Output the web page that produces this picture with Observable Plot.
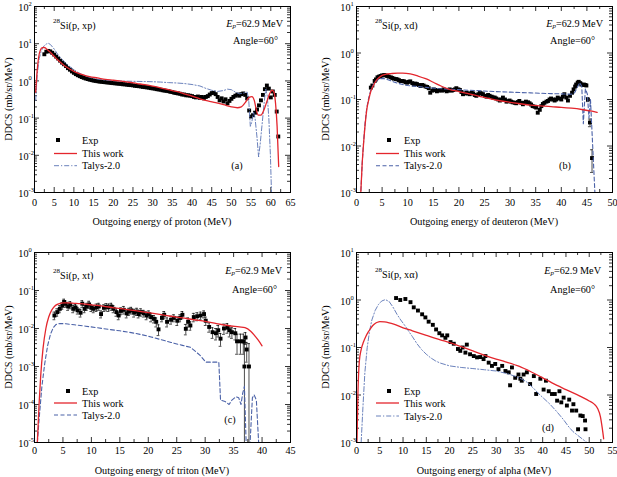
<!DOCTYPE html>
<html><head><meta charset="utf-8">
<script src="https://cdn.jsdelivr.net/npm/d3@7"></script>
<script src="https://cdn.jsdelivr.net/npm/@observablehq/plot@0.6"></script>
<style>
body{margin:0;background:#fff;}
#wrap{position:relative;width:617px;height:477px;overflow:hidden;background:#fff;}
#wrap svg{position:absolute;}
</style></head><body><div id="wrap"></div>
<script>
const FONT = '"Liberation Serif","Times New Roman",serif';
const FS = 10.2;
const RED = "#e4262d", BLUE = "#4b62a8", BLUE2 = "#5a74b4";

// ---------- (a) 28Si(p,xp) ----------
const expA = [[2.5,5.2],[3.0,6.1],[3.5,6.4],[4.0,6.2],[4.5,5.7],[5.0,5.1],[5.5,4.5],[6.0,4.0],[6.5,3.5],[7.0,3.1],[7.5,2.8],[8.0,2.5],[8.5,2.2],[9.0,2.0],[9.5,1.8],[10.0,1.65],[10.5,1.52],[11.0,1.42],[11.5,1.34],[12.0,1.27],[12.5,1.21],[13.0,1.16],[13.5,1.12],[14.0,1.08],[14.5,1.05],[15.0,1.02],[15.5,1.0],[16.0,0.98],[16.5,0.96],[17.0,0.95],[17.5,0.93],[18.0,0.92],[18.5,0.91],[19.0,0.9],[19.5,0.88],[20.0,0.87],[20.5,0.86],[21.0,0.85],[21.5,0.84],[22.0,0.83],[22.5,0.81],[23.0,0.81],[23.5,0.79],[24.0,0.78],[24.5,0.77],[25.0,0.76],[25.5,0.74],[26.0,0.73],[26.5,0.72],[27.0,0.71],[27.5,0.69],[28.0,0.68],[28.5,0.67],[29.0,0.66],[29.5,0.64],[30.0,0.63],[30.5,0.62],[31.0,0.6],[31.5,0.59],[32.0,0.58],[32.5,0.56],[33.0,0.55],[33.5,0.54],[34.0,0.53],[34.5,0.51],[35.0,0.5],[35.5,0.48],[36.0,0.47],[36.5,0.46],[37.0,0.45],[37.5,0.43],[38.0,0.43],[38.5,0.41],[39.0,0.41],[39.5,0.4],[40.0,0.39],[40.5,0.37],[41.0,0.36],[41.5,0.38],[42.0,0.35],[42.5,0.37],[43.0,0.34],[43.5,0.37],[44.0,0.39],[44.5,0.43],[45.0,0.47],[45.5,0.48],[46.0,0.44],[46.5,0.37],[47.0,0.3],[47.5,0.34],[48.0,0.28],[48.5,0.32],[49.0,0.25],[49.5,0.29],[50.0,0.33],[50.5,0.37],[51.0,0.4],[51.5,0.43],[52.0,0.4],[52.5,0.44],[53.0,0.46],[53.5,0.42],[54.0,0.34],[54.5,0.16],[55.0,0.11],[55.5,0.12],[56.0,0.14],[56.5,0.17],[57.0,0.22],[57.5,0.3],[58.0,0.42],[58.5,0.6],[59.0,0.75],[59.5,0.62],[60.0,0.36],[60.5,0.52],[61.0,0.42],[61.5,0.15],[61.9,0.032]];
const thisA = [[0.3,0.5],[0.6,1.5],[1.0,4.0],[1.5,6.8],[2.0,7.8],[2.5,7.9],[3.0,7.3],[3.5,6.6],[4.0,5.9],[5.0,4.6],[6.0,3.6],[7.0,2.9],[8.0,2.4],[9.0,2.05],[10.0,1.8],[12.0,1.5],[14.0,1.3],[16.0,1.2],[18.0,1.1],[20.0,1.04],[22.0,0.98],[24.0,0.92],[26.0,0.85],[28.0,0.79],[30.0,0.72],[32.0,0.65],[34.0,0.58],[36.0,0.52],[38.0,0.45],[40.0,0.39],[42.0,0.33],[44.0,0.29],[46.0,0.26],[48.0,0.23],[50.0,0.2],[51.5,0.19],[52.5,0.2],[53.5,0.26],[54.5,0.36],[55.2,0.38],[55.8,0.3],[56.3,0.17],[56.8,0.12],[57.5,0.12],[58.2,0.16],[59.0,0.28],[59.7,0.45],[60.3,0.56],[60.8,0.5],[61.2,0.25],[61.6,0.06],[62.0,0.005]];
const talysA = [[0.3,0.3],[0.7,1.5],[1.2,4.0],[1.7,6.3],[2.3,8.5],[3.0,9.8],[3.5,10.3],[4.0,9.6],[5.0,7.2],[6.0,5.0],[7.0,3.8],[8.0,3.0],[9.0,2.4],[10.0,2.0],[11.0,1.7],[12.0,1.5],[14.0,1.25],[16.0,1.12],[18.0,1.05],[20.0,1.01],[22.0,0.99],[24.0,0.98],[26.0,0.97],[28.0,0.96],[30.0,0.95],[32.0,0.93],[34.0,0.9],[36.0,0.88],[38.0,0.85],[40.0,0.8],[42.0,0.73],[43.5,0.63],[45.0,0.56],[46.5,0.52],[48.0,0.55],[49.0,0.6],[50.0,0.58],[51.0,0.5],[52.0,0.45],[53.0,0.47],[54.0,0.5],[54.4,0.3],[54.8,0.06],[55.2,0.08],[55.6,0.15],[56.0,0.1],[56.5,0.03],[56.9,0.009],[57.3,0.02],[57.8,0.07],[58.3,0.25],[58.7,0.6],[59.1,0.4],[59.5,0.1],[59.9,0.01],[60.2,0.0008]];

// ---------- (b) 28Si(p,xd) ---------- [E, value, error]
const expB = [[2.8,0.18],[3.1,0.2],[3.55,0.25],[3.8,0.27],[4.1,0.3],[4.4,0.31],[4.7,0.32],[5.0,0.33],[5.4,0.335],[5.7,0.33],[6.0,0.32],[6.3,0.31],[6.7,0.3],[7.0,0.29],[7.3,0.28],[7.7,0.275],[8.0,0.27],[8.3,0.26],[8.6,0.25],[9.0,0.25],[9.3,0.245],[9.6,0.235],[9.9,0.23],[10.2,0.24],[10.5,0.245],[10.9,0.225],[11.2,0.21],[11.5,0.22],[11.8,0.215],[12.2,0.205],[12.5,0.195],[12.8,0.205],[13.1,0.2],[13.5,0.19],[13.8,0.186],[14.1,0.175],[14.4,0.14],[14.8,0.155],[15.1,0.165],[15.4,0.16],[15.7,0.15],[16.0,0.155],[16.3,0.16],[16.7,0.155],[17.0,0.165],[17.3,0.16],[17.6,0.15],[17.9,0.155],[18.2,0.165],[18.6,0.155],[18.9,0.16],[19.2,0.165],[19.5,0.175],[19.9,0.165],[20.2,0.16],[20.5,0.145],[20.8,0.13],[21.2,0.135],[21.5,0.14],[21.8,0.135],[22.1,0.13],[22.5,0.14],[22.8,0.135],[23.1,0.125],[23.4,0.12],[23.8,0.13],[24.1,0.14],[24.4,0.135],[24.7,0.13],[25.1,0.12],[25.4,0.115],[25.7,0.125],[26.0,0.12],[26.4,0.115],[26.7,0.11],[27.0,0.11],[27.3,0.105],[27.7,0.1],[28.0,0.095],[28.3,0.1],[28.6,0.11],[29.0,0.1],[29.3,0.09],[29.6,0.092],[29.9,0.095],[30.2,0.09],[30.5,0.087],[30.9,0.085],[31.2,0.083],[31.5,0.088],[31.8,0.093],[32.2,0.085],[32.5,0.079],[32.8,0.085],[33.1,0.09],[33.5,0.087],[33.8,0.083],[34.1,0.078],[34.4,0.072],[34.8,0.07],[35.1,0.067],[35.4,0.052],[35.8,0.06],[36.1,0.072],[36.4,0.08],[36.7,0.085],[37.1,0.09],[37.4,0.093],[37.7,0.1],[38.0,0.105],[38.4,0.1],[38.7,0.095],[39.0,0.1],[39.3,0.11],[39.7,0.105],[40.0,0.1],[40.3,0.115],[40.6,0.13],[41.0,0.11],[41.3,0.095],[41.7,0.12],[42.1,0.14],[42.4,0.165],[42.7,0.19],[42.9,0.21],[43.2,0.23],[43.4,0.24],[43.7,0.225],[43.9,0.21],[44.2,0.205],[44.4,0.21],[44.7,0.205],[44.9,0.2],[45.2,0.1,0.01],[45.6,0.032,0.006],[46.0,0.0055,0.0028]];
const thisB = [[0.8,0.0008],[1.1,0.004],[1.4,0.012],[1.7,0.03],[2.0,0.06],[2.4,0.1],[2.8,0.15],[3.3,0.2],[3.8,0.25],[4.3,0.29],[5.0,0.33],[5.8,0.35],[6.7,0.36],[8.0,0.37],[9.0,0.37],[10.5,0.355],[12.0,0.32],[13.5,0.28],[15.0,0.235],[16.5,0.195],[18.0,0.168],[20.0,0.148],[22.0,0.132],[24.0,0.117],[26.0,0.104],[28.0,0.094],[30.0,0.087],[32.0,0.081],[34.0,0.076],[36.0,0.073],[38.0,0.07],[40.0,0.068],[42.0,0.065],[44.0,0.061],[46.0,0.056],[47.0,0.053]];
const talysB = [[0.8,0.0008],[1.1,0.004],[1.4,0.013],[1.7,0.033],[2.0,0.065],[2.4,0.11],[2.8,0.16],[3.3,0.21],[3.8,0.25],[4.5,0.28],[5.2,0.285],[6.0,0.27],[7.0,0.245],[8.0,0.225],[9.0,0.21],[10.0,0.2],[12.0,0.19],[14.0,0.18],[16.0,0.172],[18.0,0.167],[20.0,0.163],[22.0,0.158],[24.0,0.154],[26.0,0.15],[28.0,0.147],[30.0,0.144],[32.0,0.141],[34.0,0.139],[36.0,0.136],[38.0,0.134],[40.0,0.132],[42.0,0.13],[42.6,0.14],[43.1,0.18],[43.6,0.23],[44.0,0.19],[44.3,0.03],[44.7,0.17],[45.1,0.13],[45.4,0.04],[45.7,0.1],[46.0,0.02],[46.3,0.004],[46.6,0.0008]];

// ---------- (c) 28Si(p,xt) ---------- [E, value, error]
const expC = [[3.5,0.022,0.005],[4.0,0.027,0.006],[4.45,0.033,0.007],[4.9,0.04,0.008],[5.2,0.05,0.009],[5.45,0.045,0.009],[5.9,0.038,0.008],[6.3,0.042,0.009],[6.8,0.033,0.007],[7.2,0.036,0.007],[7.6,0.03,0.006],[8.1,0.026,0.006],[8.4,0.045,0.009],[8.8,0.033,0.007],[9.2,0.038,0.008],[9.6,0.043,0.009],[10.0,0.035,0.007],[10.4,0.033,0.007],[10.9,0.036,0.008],[11.3,0.038,0.008],[11.7,0.024,0.005],[12.2,0.035,0.007],[12.6,0.037,0.008],[13.0,0.036,0.008],[13.5,0.038,0.008],[13.9,0.033,0.007],[14.4,0.027,0.006],[14.8,0.022,0.005],[15.2,0.029,0.006],[15.7,0.031,0.007],[16.2,0.025,0.006],[16.6,0.028,0.006],[17.0,0.03,0.006],[17.5,0.026,0.006],[18.0,0.028,0.006],[18.3,0.024,0.005],[18.7,0.027,0.006],[19.2,0.025,0.005],[19.7,0.022,0.005],[20.1,0.024,0.005],[20.5,0.02,0.005],[21.0,0.018,0.004],[21.4,0.015,0.004],[21.8,0.0095,0.003],[22.4,0.019,0.004],[22.8,0.023,0.005],[23.3,0.015,0.004],[24.0,0.017,0.004],[24.5,0.019,0.004],[25.1,0.016,0.004],[25.6,0.019,0.004],[26.0,0.023,0.005],[26.6,0.0098,0.003],[27.0,0.015,0.004],[27.4,0.012,0.003],[28.0,0.02,0.005],[28.6,0.021,0.005],[29.2,0.022,0.005],[29.8,0.024,0.005],[30.1,0.016,0.004],[30.7,0.011,0.003],[31.3,0.008,0.0025],[31.9,0.0075,0.0025],[32.3,0.009,0.003],[32.7,0.0054,0.002],[33.3,0.01,0.003],[33.9,0.0105,0.003],[34.3,0.009,0.003],[34.7,0.008,0.0025],[35.3,0.0075,0.0025],[35.6,0.0046,0.0025],[36.2,0.0046,0.0025],[36.7,0.0046,0.0025],[36.9,0.001,0.003],[37.1,0.0058,0.002],[37.3,0.0028,0.0015],[37.7,0.001,0.003]];
const thisC = [[0.5,0.00001],[0.8,0.0001],[1.1,0.0006],[1.5,0.003],[2.0,0.01],[2.5,0.02],[3.0,0.03],[3.5,0.038],[4.0,0.043],[4.5,0.046],[5.0,0.047],[6.0,0.047],[7.0,0.046],[8.0,0.045],[10.0,0.042],[12.0,0.039],[14.0,0.035],[16.0,0.032],[18.0,0.029],[20.0,0.026],[22.0,0.0235],[24.0,0.021],[26.0,0.019],[28.0,0.017],[30.0,0.0155],[32.0,0.0135],[34.0,0.012],[36.0,0.011],[37.0,0.0105],[38.0,0.0085],[38.7,0.0065],[39.3,0.005],[40.0,0.0035]];
const talysC = [[0.5,0.00001],[0.9,0.00006],[1.3,0.0003],[1.8,0.0012],[2.3,0.0035],[2.8,0.007],[3.3,0.0105],[3.8,0.0128],[4.5,0.0136],[5.5,0.0133],[7.0,0.0125],[9.0,0.0115],[11.0,0.0105],[13.0,0.0095],[15.0,0.0087],[17.0,0.0078],[19.0,0.0068],[20.5,0.006],[22.0,0.0052],[24.0,0.0043],[26.0,0.0036],[27.4,0.0032],[28.3,0.0025],[29.2,0.0019],[30.1,0.0013],[31.0,0.0013],[32.4,0.0013],[32.7,0.00013],[33.5,0.00012],[34.2,0.0001],[34.7,0.00013],[35.4,0.00016],[35.9,0.00015],[36.3,0.0001],[36.6,0.0002],[36.9,0.0003],[37.2,0.00001],[37.9,0.00001],[38.3,0.00015],[38.6,0.00018],[39.0,0.00013],[39.4,0.00001]];

// ---------- (d) 28Si(p,xα) ----------
const expD = [[8.5,1.1],[9.4,1.0],[10.5,1.05],[11.6,0.9],[12.3,0.7],[13.2,0.6],[14.1,0.5],[14.8,0.43],[15.5,0.35],[16.4,0.3],[17.1,0.24],[17.8,0.2],[18.4,0.18],[19.1,0.16],[19.5,0.18],[20.2,0.13],[20.9,0.12],[21.8,0.093],[22.3,0.085],[22.8,0.1],[23.4,0.078],[23.7,0.115],[24.4,0.072],[25.2,0.066],[25.9,0.062],[26.6,0.063],[27.3,0.057],[27.7,0.066],[28.4,0.048],[29.1,0.041],[29.8,0.045],[30.5,0.035],[31.3,0.041],[32.0,0.032],[32.7,0.03],[33.0,0.016],[33.4,0.038],[34.1,0.023],[34.8,0.027],[35.2,0.022],[35.5,0.02],[35.9,0.027],[36.6,0.03],[37.3,0.017],[38.1,0.025],[38.6,0.0105],[39.5,0.022],[40.2,0.013],[40.7,0.02],[41.3,0.012],[42.0,0.0105],[42.6,0.0105],[43.1,0.0076],[43.6,0.012],[44.0,0.007],[44.5,0.0088],[45.2,0.006],[45.7,0.008],[46.3,0.0047],[46.6,0.0064],[47.2,0.0047],[47.6,0.0019],[48.1,0.0037],[48.6,0.0036],[49.1,0.0029],[49.2,0.0019]];
const thisD = [[0.1,0.001],[0.3,0.01],[0.6,0.05],[1.0,0.09],[1.5,0.13],[2.0,0.17],[2.5,0.21],[3.0,0.25],[3.5,0.29],[4.0,0.32],[4.5,0.34],[5.0,0.35],[6.0,0.345],[7.0,0.33],[8.0,0.31],[10.0,0.26],[12.0,0.225],[15.0,0.18],[18.0,0.145],[20.0,0.127],[22.0,0.108],[25.0,0.085],[28.0,0.066],[30.0,0.057],[32.0,0.05],[35.0,0.04],[38.0,0.029],[40.0,0.023],[42.0,0.018],[45.0,0.013],[48.0,0.0095],[50.0,0.0075],[51.0,0.0065],[51.8,0.0052],[52.4,0.0035],[52.8,0.002],[53.1,0.0012]];
const talysD = [[1.0,0.001],[1.4,0.006],[1.8,0.03],[2.3,0.1],[2.8,0.22],[3.3,0.38],[4.0,0.6],[4.7,0.8],[5.4,0.95],[6.2,1.02],[7.0,0.93],[7.8,0.72],[8.7,0.5],[9.5,0.38],[10.5,0.28],[11.2,0.22],[12.0,0.17],[13.0,0.12],[14.0,0.09],[15.0,0.072],[16.0,0.06],[17.0,0.052],[18.0,0.047],[20.0,0.041],[22.5,0.038],[25.0,0.036],[27.5,0.034],[30.0,0.032],[32.5,0.028],[35.0,0.023],[36.5,0.019],[38.0,0.014],[39.0,0.011],[40.0,0.0089],[41.5,0.0065],[43.0,0.0045],[44.5,0.003],[45.5,0.0022],[46.5,0.0017],[48.0,0.0013],[49.5,0.001]];

const panels = [
  {sx:0, sy:0, w:308, h:237, mL:34, mR:18, mT:6, mB:45, xMax:65, yDom:[1e-3,1e2], exp:expA, thisWork:thisA, talys:talysA,
   dash:"5,2,1.2,2", tcol:BLUE2, tw:0.9, ej:"p", particle:"proton", letter:"a", pad:6.5, yLabX:8.5, xLabY:221,
   reactY:19, epY:17, epR:7, angY:34, angR:12, legY:[134,147.5,159.7], sqX:24, letR:53, letY:159, cap:0.2},
  {sx:308, sy:0, w:309, h:237, mL:48, mR:5, mT:6, mB:45, xMax:50, yDom:[1e-3,1e1], exp:expB, thisWork:thisB, talys:talysB,
   dash:"4,2.5", tcol:BLUE, tw:1.1, ej:"d", particle:"deuteron", letter:"b", pad:6.5, yLabX:17, xLabY:221,
   reactY:19, epY:17, epR:9, angY:34, angR:17, legY:[134,147.5,159.7], sqX:33, letR:47, letY:159, cap:0.3},
  {sx:0, sy:237, w:308, h:240, mL:34, mR:18, mT:15, mB:35, xMax:45, yDom:[1e-5,1e0], exp:expC, thisWork:thisC, talys:talysC,
   dash:"4,2.5", tcol:BLUE, tw:1.1, ej:"t", particle:"triton", letter:"c", pad:4.5, yLabX:8.5, xLabY:233,
   reactY:23, epY:18, epR:8, angY:37, angR:13, legY:[139,151,163], sqX:34, letR:60, letY:167, cap:0.25},
  {sx:308, sy:237, w:309, h:240, mL:48, mR:5, mT:15, mB:35, xMax:55, yDom:[1e-3,1e1], exp:expD, thisWork:thisD, talys:talysD,
   dash:"5,2,1.2,2", tcol:BLUE2, tw:0.9, ej:"\u03b1", particle:"alpha", letter:"d", pad:4.5, yLabX:17, xLabY:233,
   reactY:22, epY:18, epR:11, angY:37, angR:17, legY:[139,151,164], sqX:33, letR:64, letY:175, cap:0.25}
];

const wrap = document.getElementById("wrap");

for (const p of panels) {
  const iw = p.w - p.mL - p.mR, ih = p.h - p.mT - p.mB;
  const xMaj = d3.range(0, p.xMax + 0.001, 5);
  const xMinr = d3.range(2.5, p.xMax, 5);
  const k0 = Math.round(Math.log10(p.yDom[0])), k1 = Math.round(Math.log10(p.yDom[1]));
  const exps = d3.range(k0, k1 + 1);
  const decades = exps.map(k => Math.pow(10, k));
  const yMinr = d3.range(k0, k1).flatMap(k => d3.range(2, 10).map(m => m * Math.pow(10, k)));
  const exp = p.exp.map(([E, v, s]) => ({E, v, s: s || 0}));
  const withErr = exp.filter(d => d.s > 0);
  const caps = withErr.filter(d => d.v - d.s > p.yDom[0]);
  const pt = arr => arr.map(([E, v]) => ({E, v}));

  const svg = Plot.plot({
    width: p.w, height: p.h,
    marginLeft: p.mL, marginRight: p.mR, marginTop: p.mT, marginBottom: p.mB,
    style: {fontFamily: FONT, fontSize: FS + "px", color: "black", background: "transparent"},
    x: {domain: [0, p.xMax], axis: null},
    y: {type: "log", domain: p.yDom, axis: null},
    marks: [
      Plot.tickX(xMaj, {x: d => d, insetTop: ih - 5, strokeWidth: 0.8}),
      Plot.tickX(xMaj, {x: d => d, insetBottom: ih - 5, strokeWidth: 0.8}),
      Plot.tickX(xMinr, {x: d => d, insetTop: ih - 3, strokeWidth: 0.8}),
      Plot.tickX(xMinr, {x: d => d, insetBottom: ih - 3, strokeWidth: 0.8}),
      Plot.tickY(decades, {y: d => d, insetRight: iw - 5, strokeWidth: 0.8}),
      Plot.tickY(decades, {y: d => d, insetLeft: iw - 5, strokeWidth: 0.8}),
      Plot.tickY(yMinr, {y: d => d, insetRight: iw - 3, strokeWidth: 0.8}),
      Plot.tickY(yMinr, {y: d => d, insetLeft: iw - 3, strokeWidth: 0.8}),
      Plot.axisX({ticks: xMaj, tickSize: 0, tickPadding: p.pad, tickFormat: d => String(d), label: null, fontSize: FS}),
      Plot.text(exps, {y: k => Math.pow(10, k), text: () => "10", frameAnchor: "left", textAnchor: "end", dx: -6, dy: 1.5, fontSize: FS}),
      Plot.text(exps, {y: k => Math.pow(10, k), text: k => String(k), frameAnchor: "left", textAnchor: "start", dx: -6, dy: -2.5, fontSize: 6.5}),
      Plot.ruleX(withErr, {x: "E", y1: d => Math.max(d.v - d.s, 1e-9), y2: d => d.v + d.s, strokeWidth: 0.7, clip: true}),
      Plot.ruleY(withErr, {y: d => d.v + d.s, x1: d => d.E - p.cap, x2: d => d.E + p.cap, strokeWidth: 0.7, clip: true}),
      Plot.ruleY(caps, {y: d => d.v - d.s, x1: d => d.E - p.cap, x2: d => d.E + p.cap, strokeWidth: 0.7, clip: true}),
      Plot.dot(exp, {x: "E", y: "v", symbol: "square", r: 2.2, fill: "black", stroke: "none", clip: true}),
      Plot.line(pt(p.talys), {x: "E", y: "v", stroke: p.tcol, strokeWidth: p.tw, strokeDasharray: p.dash, clip: true}),
      Plot.line(pt(p.thisWork), {x: "E", y: "v", stroke: RED, strokeWidth: 1.3, curve: "monotone-x", clip: true}),
      Plot.frame({stroke: "black", strokeWidth: 1})
    ]
  });
  svg.style.left = p.sx + "px";
  svg.style.top = p.sy + "px";
  wrap.appendChild(svg);

  const L = p.mL, R = p.w - p.mR, T = p.mT, B = p.h - p.mB;
  const g = d3.select(svg).append("g").attr("font-family", FONT).attr("fill", "black").attr("font-size", FS);
  const txt = (x, y, anchor) => g.append("text").attr("x", x).attr("y", y)
      .attr("text-anchor", anchor).attr("dominant-baseline", "central");

  g.append("text").attr("transform", `translate(${p.yLabX},${(T + B) / 2}) rotate(-90)`)
    .attr("text-anchor", "middle").attr("dominant-baseline", "central").text("DDCS (mb/sr/MeV)");
  txt((L + R) / 2, p.xLabY, "middle").text(`Outgoing energy of ${p.particle} (MeV)`);

  const r = txt(L + 19, T + p.reactY, "start");
  r.append("tspan").attr("font-size", 7).attr("dy", -4).text("28");
  r.append("tspan").attr("dy", 4).text(`Si(p, x${p.ej})`);

  const e = txt(R - p.epR, T + p.epY, "end");
  e.append("tspan").attr("font-style", "italic").text("E");
  e.append("tspan").attr("font-style", "italic").attr("font-size", 7).attr("dy", 3).text("p");
  e.append("tspan").attr("dy", -3).text("=62.9 MeV");
  txt(R - p.angR, T + p.angY, "end").text("Angle=60\u00b0");

  const ly = p.legY.map(v => T + v);
  g.append("rect").attr("x", L + p.sqX - 2).attr("y", ly[0] - 2).attr("width", 4).attr("height", 4).attr("fill", "black");
  txt(L + 48, ly[0], "start").text("Exp");
  g.append("line").attr("x1", L + 20).attr("x2", L + 43).attr("y1", ly[1]).attr("y2", ly[1]).attr("stroke", RED).attr("stroke-width", 1.3);
  txt(L + 48, ly[1], "start").text("This work");
  g.append("line").attr("x1", L + 20).attr("x2", L + 43).attr("y1", ly[2]).attr("y2", ly[2]).attr("stroke", p.tcol).attr("stroke-width", p.tw).attr("stroke-dasharray", p.dash);
  txt(L + 48, ly[2], "start").text("Talys-2.0");

  txt(R - p.letR, T + p.letY, "middle").text(`(${p.letter})`);
}
</script></body></html>
